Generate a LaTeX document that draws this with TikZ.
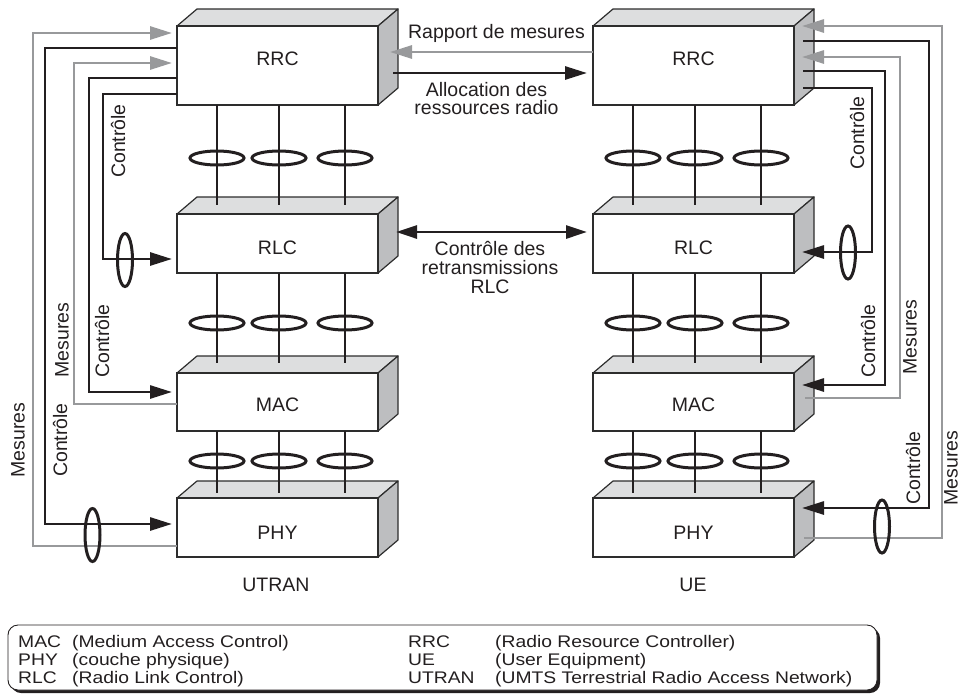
\documentclass[tikz,border=0pt]{standalone}
\usepackage{fontspec}
\setmainfont{Liberation Sans}
\usepackage{graphicx}
\usetikzlibrary{arrows.meta,calc,shapes.geometric}
\definecolor{linek}{RGB}{35,31,32}
\definecolor{lineg}{RGB}{152,153,155}
\definecolor{topf}{RGB}{221,222,223}
\definecolor{sidef}{RGB}{189,190,192}
\definecolor{edge}{RGB}{45,45,45}
\newcommand\legtxt[1]{\scalebox{1}[0.87]{#1}}
\begin{document}
\begin{tikzpicture}[x=1pt,y=-1pt,
  face/.style={fill=#1, draw=edge, line width=1.2pt, line join=round},
  front/.style={draw=edge, fill=white, line width=1.2pt, inner sep=0pt, outer sep=0pt, anchor=north west},
  lbl/.style={font=\fontsize{19.5}{18}\selectfont, inner sep=0pt, text=linek},
  leg/.style={font=\fontsize{19.3}{20}\selectfont, inner sep=0pt, anchor=base west, text=linek},
  link/.style={draw=linek, line width=2.8pt},
  ring/.style={ellipse, draw=linek, line width=3pt, inner sep=0pt},
  hring/.style={ring, minimum width=54pt, minimum height=14pt},
  vring/.style={ring, minimum width=15pt, minimum height=53pt},
  blk/.style={draw=linek, line width=2.8pt},
  gry/.style={draw=lineg, line width=2.8pt},
  tip/.style={-{Triangle[length=22pt,width=13pt]}},
  dtip/.style={{Triangle[length=21pt,width=13pt]}-{Triangle[length=21pt,width=13pt]}}
]
\useasboundingbox (0,0) rectangle (961,694);

% layer boxes
\foreach \n/\yt/\yb/\lab/\ly in {rrc/26/105/RRC/59, rlc/214/273/RLC/247.5, mac/373/431/MAC/405, phy/498/557/PHY/532.5}{
  \foreach \s/\x in {l/177, r/593}{
    \filldraw[face=topf] (\x,\yt) -- ++(20,-17) -- ++(201,0) -- ++(-20,17) -- cycle;
    \filldraw[face=sidef] (\x+201,\yt) -- ++(20,-17) -- (\x+221,\yb-17) -- (\x+201,\yb) -- cycle;
    \node[front, minimum width=201pt, minimum height={(\yb-\yt)*1pt}] (\s\n) at (\x,\yt) {};
    \node[lbl] (\s\n-t) at (\x+100.5,\ly) {\lab};
  }
}

% inter-layer links with rings
\foreach \up/\dn/\ey/\ee in {rrc/rlc/53/-9, rlc/mac/50/-10, mac/phy/30/-5}{
  \foreach \s in {l,r}{
    \foreach \dx [count=\i] in {40,102,168}{
      \draw[link] ($(\s\up.south west)+(\dx,0)$) -- ($(\s\dn.north west)+(\dx,\ee)$);
      \node[hring] (\s\up\i) at ($(\s\up.south west)+(\dx,\ey)$) {};
    }
  }
}

% UTRAN feedback
\draw[gry, tip] ($(lphy.north west)+(0,48)$) -| (33,33) -- ($(lrrc.north west)+(-5,7)$);
\draw[blk, tip] ($(lrrc.north west)+(0,22)$) -| (45,524) -- ($(lphy.north west)+(-5,26)$);
\draw[gry, tip] ($(lmac.north west)+(0,31)$) -| (74,63) -- ($(lrrc.north west)+(-5,37)$);
\draw[blk, tip] ($(lrrc.north west)+(0,52)$) -| (89,392) -- ($(lmac.north west)+(-5,19)$);
\draw[blk, tip] ($(lrrc.north west)+(0,68)$) -| (103,259) -- ($(lrlc.north west)+(-5,45)$);
\node[vring] (lv1) at (125,260) {};
\node[vring] (lv2) at (92.5,535) {};

% UE feedback
\draw[gry, tip] ($(rphy.north east)+(10,40)$) -| (942,26) -- ($(rrrc.north east)+(8,0)$);
\draw[blk, tip] ($(rrrc.north east)+(9,15)$) -| (929,508) -- ($(rphy.north east)+(8,10)$);
\draw[gry, tip] ($(rmac.north east)+(11,25)$) -| (900,57) -- ($(rrrc.north east)+(8,31)$);
\draw[blk, tip] ($(rrrc.north east)+(9,45)$) -| (885,385) -- ($(rmac.north east)+(8,12)$);
\draw[blk, tip] ($(rrrc.north east)+(9,62)$) -| (872,252) -- ($(rrlc.north east)+(8,38)$);
\node[vring] (rv1) at (848,252.5) {};
\node[vring] (rv2) at (882,526.5) {};

% peer-to-peer
\draw[gry, tip] ($(rrrc.north west)+(0,26)$) -- ($(lrrc.north east)+(12,26)$);
\draw[blk, tip] ($(lrrc.north east)+(15,47)$) -- ($(rrrc.north west)+(-6,47)$);
\draw[blk, dtip] ($(lrlc.north east)+(18,18)$) -- ($(rrlc.north west)+(-6,18)$);
\node[lbl] (rap) at (496.5,33) {Rapport de mesures};
\node[lbl, align=center] (alloc) at (486.5,99) {Allocation des\\ressources radio};
\node[lbl, align=center, font=\fontsize{19.5}{19}\selectfont] (retr) at (490,267) {Contrôle des\\retransmissions\\RLC};

% rotated labels
\node[lbl, rotate=90] (t1) at (118,141) {Contrôle};
\node[lbl, rotate=90] (t2) at (62,340) {Mesures};
\node[lbl, rotate=90] (t3) at (102,341) {Contrôle};
\node[lbl, rotate=90] (t4) at (18,440) {Mesures};
\node[lbl, rotate=90] (t5) at (60,440) {Contrôle};
\node[lbl, rotate=90] (t6) at (857,133) {Contrôle};
\node[lbl, rotate=90] (t7) at (868,341) {Contrôle};
\node[lbl, rotate=90] (t8) at (910,337) {Mesures};
\node[lbl, rotate=90] (t9) at (913,468) {Contrôle};
\node[lbl, rotate=90] (t10) at (951,468) {Mesures};

\node[lbl] (utran) at (276,585) {UTRAN};
\node[lbl] (ue) at (693,585) {UE};

% legend
\fill[linek, rounded corners=10pt] (11,628) rectangle (880,693);
\draw[fill=white, draw=linek, line width=0.9pt, rounded corners=10pt] (8,625) rectangle (877,690);
\node[leg] (k1) at (18,647) {\legtxt{MAC}};
\node[leg] (k1d) at (72,647) {\legtxt{(Medium Access Control)}};
\node[leg] (k2) at (18,665) {\legtxt{PHY}};
\node[leg] (k2d) at (72,665) {\legtxt{(couche physique)}};
\node[leg] (k3) at (18,683) {\legtxt{RLC}};
\node[leg] (k3d) at (72,683) {\legtxt{(Radio Link Control)}};
\node[leg] (k4) at (408,647) {\legtxt{RRC}};
\node[leg] (k4d) at (495,647) {\legtxt{(Radio Resource Controller)}};
\node[leg] (k5) at (408,665) {\legtxt{UE}};
\node[leg] (k5d) at (495,665) {\legtxt{(User Equipment)}};
\node[leg] (k6) at (408,683) {\legtxt{UTRAN}};
\node[leg] (k6d) at (495,683) {\legtxt{(UMTS Terrestrial Radio Access Network)}};
\end{tikzpicture}
\end{document}
